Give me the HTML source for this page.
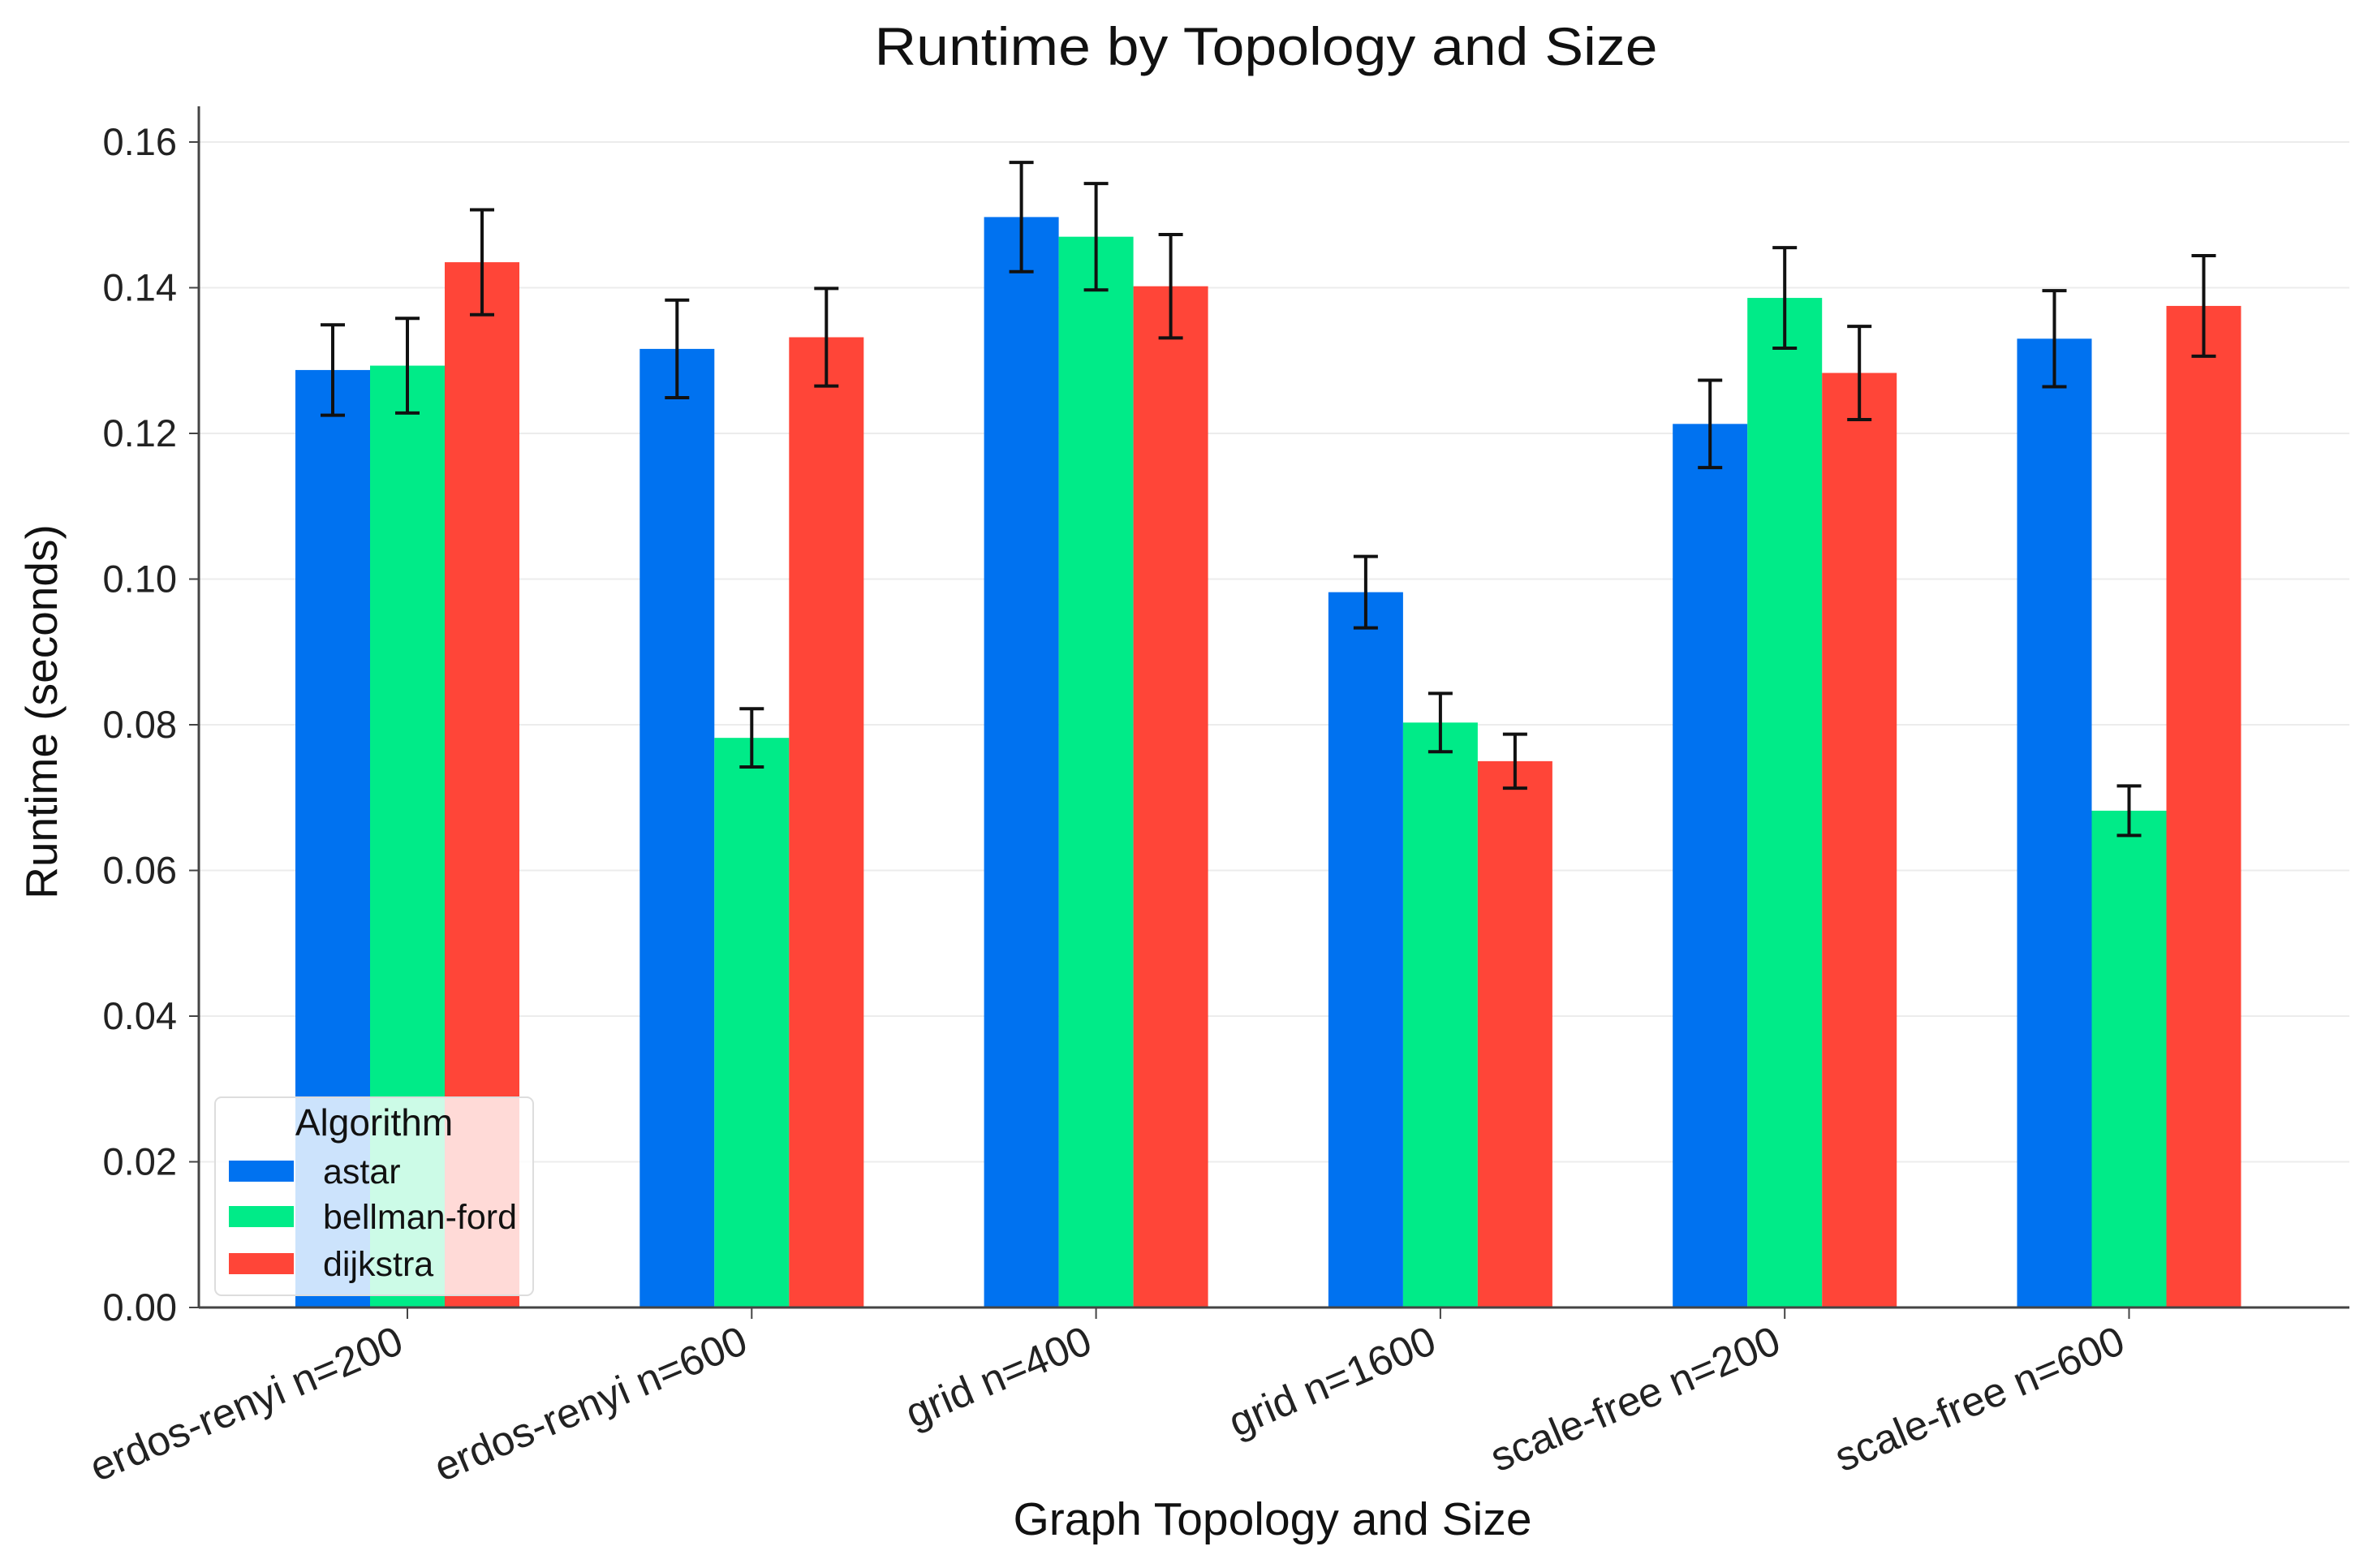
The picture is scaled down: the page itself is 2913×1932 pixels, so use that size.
<!DOCTYPE html>
<html><head><meta charset="utf-8"><style>
html,body{margin:0;padding:0;background:#fff;}
svg{display:block;font-family:"Liberation Sans",sans-serif;}
</style></head><body>
<svg id="chart" width="2913" height="1932" viewBox="0 0 2913 1932" xmlns="http://www.w3.org/2000/svg">
<rect x="0" y="0" width="2913" height="1932" fill="#fff"/>
<text x="1560" y="80" font-size="66" text-anchor="middle" textLength="965" lengthAdjust="spacingAndGlyphs" fill="#111">Runtime by Topology and Size</text>
<g id="grid"></g>
<g id="bars"></g>
<g id="errs"></g>
<g id="axes"></g>
<text transform="translate(70,877) rotate(-90)" font-size="55" text-anchor="middle" fill="#111">Runtime (seconds)</text>
<text x="1568" y="1891" font-size="57" text-anchor="middle" fill="#111">Graph Topology and Size</text>
<g>
<rect x="265" y="1352" width="392" height="244" rx="8" fill="#fff" fill-opacity="0.8" stroke="#ddd" stroke-width="2"/>
<text x="461" y="1399" font-size="46" text-anchor="middle" fill="#111">Algorithm</text>
<rect x="282" y="1430" width="80" height="26" fill="#0072F0"/>
<text x="398" y="1458" font-size="43" fill="#111">astar</text>
<rect x="282" y="1486" width="80" height="26" fill="#00EB88"/>
<text x="398" y="1514" font-size="43" fill="#111">bellman-ford</text>
<rect x="282" y="1544" width="80" height="26" fill="#FF4538"/>
<text x="398" y="1572" font-size="43" fill="#111">dijkstra</text>
</g>
</svg>
<script>
const categories = ["erdos-renyi n=200","erdos-renyi n=600","grid n=400","grid n=1600","scale-free n=200","scale-free n=600"];
const seriesNames = ["astar","bellman-ford","dijkstra"];
const astarValues = [0.1287,0.1316,0.1497,0.0982,0.1213,0.1330];
const bellmanValues = [0.1293,0.0782,0.1470,0.0803,0.1386,0.0682];
const dijkstraValues = [0.1435,0.1332,0.1402,0.0750,0.1283,0.1375];
const astarErr = [0.0062,0.0067,0.0075,0.0049,0.0060,0.0066];
const bellmanErr = [0.0065,0.0040,0.0073,0.0040,0.0069,0.0034];
const dijkstraErr = [0.0072,0.0067,0.0071,0.0037,0.0064,0.0069];
const yTicks = [0,0.02,0.04,0.06,0.08,0.10,0.12,0.14,0.16];
const yTickLabels = ["0.00","0.02","0.04","0.06","0.08","0.10","0.12","0.14","0.16"];

const NS="http://www.w3.org/2000/svg";
const colors=["#0072F0","#00EB88","#FF4538"];
const X0=245, X1=2895, Y0=1611, Ytop=131;
const yScale=v=>Y0-(v/0.16)*(Y0-175);
const xCenter=i=>502+424.3*i;
const BW=92;
function mk(tag,attrs,parent){const e=document.createElementNS(NS,tag);for(const k in attrs)e.setAttribute(k,attrs[k]);parent.appendChild(e);return e;}
const grid=document.getElementById('grid'),bars=document.getElementById('bars'),errs=document.getElementById('errs'),axes=document.getElementById('axes');
yTicks.forEach((t,i)=>{
  const y=yScale(t);
  if(i>0){const g=mk('line',{x1:X0,x2:X1,y1:y,y2:y,stroke:'#ececec','stroke-width':2},grid);
  
  }
  const tk=mk('line',{x1:X0-12,x2:X0,y1:y,y2:y,stroke:'#444','stroke-width':2},axes);
  
  
  const tx=mk('text',{x:218,y:y+16,'font-size':47,'text-anchor':'end',fill:'#222'},axes);
  tx.textContent=yTickLabels[i];
  
  
});
const vals=[astarValues,bellmanValues,dijkstraValues],errv=[astarErr,bellmanErr,dijkstraErr];
categories.forEach((c,i)=>{
  vals.forEach((s,j)=>{
    const xl=xCenter(i)+(j-1.5)*BW, v=s[i], y=yScale(v);
    const r=mk('rect',{x:xl,y:y,width:BW,height:Y0-y,fill:colors[j]},bars);
    
    
    const cx=xl+BW/2, e=errv[j][i], yt=yScale(v+e), yb=yScale(v-e);
    const g=mk('g',{stroke:'#111','stroke-width':4},errs);
    
    
    mk('line',{x1:cx,x2:cx,y1:yt,y2:yb},g);
    mk('line',{x1:cx-15,x2:cx+15,y1:yt,y2:yt},g);
    mk('line',{x1:cx-15,x2:cx+15,y1:yb,y2:yb},g);
  });
  const cx=xCenter(i);
  const tk=mk('line',{x1:cx,x2:cx,y1:Y0,y2:Y0+14,stroke:'#444','stroke-width':2},axes);
  
  
  const tx=mk('text',{transform:`translate(${cx-2},${Y0+54}) rotate(-23)`,'font-size':51,'text-anchor':'end',fill:'#222'},axes);
  tx.textContent=c;
  
  
});
const ya=mk('line',{x1:X0,x2:X0,y1:Ytop,y2:Y0+1,stroke:'#444','stroke-width':3},axes);


const xa=mk('line',{x1:X0,x2:X1,y1:Y0,y2:Y0,stroke:'#444','stroke-width':3},axes);


</script>
</body></html>
